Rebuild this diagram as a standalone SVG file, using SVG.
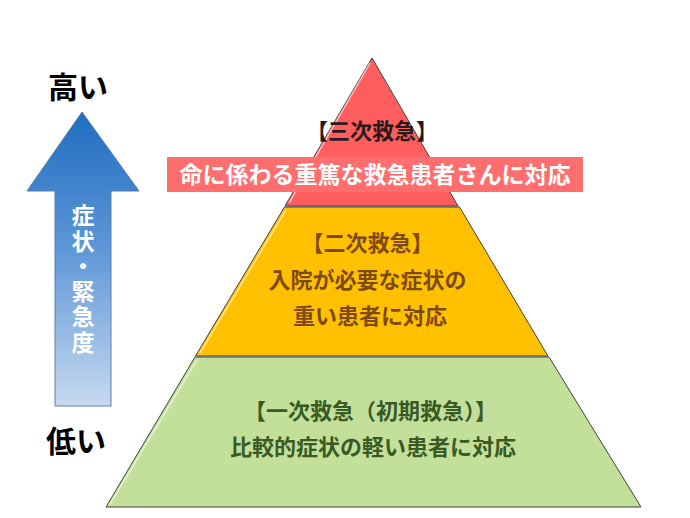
<svg xmlns="http://www.w3.org/2000/svg" width="690" height="518" viewBox="0 0 690 518">
<defs>
<linearGradient id="blueg" x1="0" y1="0" x2="0" y2="1">
<stop offset="0" stop-color="#1F6DC0"/>
<stop offset="0.45" stop-color="#5B95D6"/>
<stop offset="1" stop-color="#C7D9EF"/>
</linearGradient>
<style>
.lay{stroke:#404040;stroke-width:1}
.hl{fill:none;stroke:#ffffff;stroke-opacity:0.55;stroke-width:1.5}
.jp{font-family:"Noto Sans CJK JP","Noto Sans CJK SC",sans-serif;text-anchor:middle;font-weight:bold}
.big{font-size:30px;fill:#000}
.t22{font-size:22px}
</style>
</defs>
<rect width="690" height="518" fill="#ffffff"/>
<g id="arrow">
<path d="M82,112 L139,191 L111,191 L111,406 L55,406 L55,191 L27,191 Z" fill="url(#blueg)" stroke="#5A7FA8" stroke-width="1"/>
<text x="83" y="204" writing-mode="vertical-rl" font-family="'Noto Sans CJK JP','Noto Sans CJK SC',sans-serif" font-size="23" font-weight="bold" letter-spacing="2.3" fill="#ffffff">症状・緊急度</text>
</g>
<g id="label-high"><text class="jp big" x="78" y="98">高い</text></g>
<g id="label-low"><text class="jp big" x="76" y="452">低い</text></g>
<g id="tertiary">
<path class="lay" d="M372,58 L458,206 L285,206 Z" fill="#FF5E5E"/>
<path class="hl" d="M370,63 L289,203"/>
<text class="jp t22" x="372" y="139" fill="#2B1A1A">【三次救急】</text>
</g>
<g id="secondary">
<path class="lay" d="M284.5,207 L459.5,207 L548,356 L195.5,356 Z" fill="#FFC000"/>
<path class="hl" d="M286,210 L200,353"/>
<text class="jp t22" fill="#7F4A12">
<tspan x="370" y="251">【二次救急】</tspan>
<tspan x="370" y="288">入院が必要な症状の</tspan>
<tspan x="370" y="324">重い患者に対応</tspan>
</text>
</g>
<g id="primary">
<path class="lay" d="M195,357 L549,357 L641,507 L106,507 Z" fill="#C2E09A"/>
<path class="hl" d="M197,360 L110,504"/>
<text class="jp t22" fill="#3A5A25">
<tspan x="373" y="419">【一次救急（初期救急）】</tspan>
<tspan x="373" y="455">比較的症状の軽い患者に対応</tspan>
</text>
</g>
<g id="tertiary-label">
<rect x="167" y="157" width="416" height="35" fill="#FF6E6E"/>
<text class="jp" x="375" y="183" font-size="23" font-weight="normal" fill="#ffffff">命に係わる重篤な救急患者さんに対応</text>
</g>
</svg>
